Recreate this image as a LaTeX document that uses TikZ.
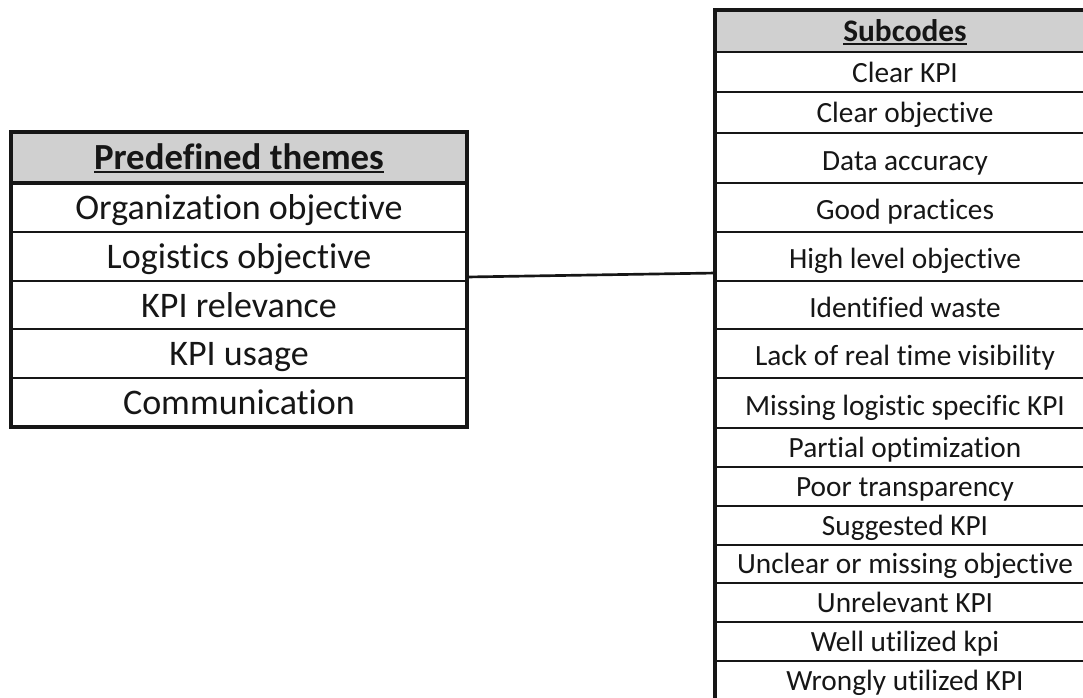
\documentclass[tikz,border=0pt]{standalone}
\usepackage{fontspec}
\setmainfont{Carlito}[Ligatures={NoCommon,NoContextual}]
\usetikzlibrary{positioning, fit}

\definecolor{headgray}{RGB}{208,208,208}
\definecolor{tableink}{RGB}{22,22,22}

% bold heading with a close underline
\newcommand{\ulhead}[2]{\setbox0\hbox{\fontsize{#1}{#1}\selectfont\bfseries #2}\rlap{\rule[-2.2pt]{\wd0}{1.5pt}}\box0}

\begin{document}
\begin{tikzpicture}[x=0.75pt, y=-0.75pt,
    themecell/.style={draw=tableink, line width=1.5pt, minimum width=341pt,
        inner sep=0pt, text depth=0pt, text=tableink,
        font=\fontsize{27}{32}\selectfont},
    subcell/.style={draw=tableink, line width=1.5pt, minimum width=283.5pt,
        inner sep=0pt, text depth=0pt, text=tableink,
        font=\fontsize{22}{26}\selectfont},
    headcell/.style={fill=headgray},
    frame/.style={draw=tableink, line width=2.4pt, inner sep=0pt},
    link/.style={draw=tableink, line width=2pt}]
    \useasboundingbox (0,0) rectangle (1083,697);
    \clip (0,0) rectangle (1083,697);

    % Predefined themes
    \foreach \n/\top/\bot/\txt in {0/133/182/{\ulhead{27.6}{Predefined themes}},
            1/182/232/Organization objective, 2/232/281/Logistics objective,
            3/281/329/KPI relevance, 4/329/378/KPI usage,
            5/378/426/Communication} {
        \pgfmathsetmacro\rowh{(\bot-\top)*0.75}
        \pgfmathsetmacro\txth{(\bot-\top)*0.375}
        \ifnum\n=0 \tikzset{every node/.append style={headcell}}\fi
        \node[themecell, minimum height=\rowh pt, text height=\txth pt]
            (t\n) at (239,{(\top+\bot)/2}) {\txt};
    }
    \node[frame, fit=(t0)(t5)] (themes) {};
    \draw[frame] (t0.south west) -- (t0.south east);

    % Subcodes
    \foreach \n/\top/\bot/\txt in {0/11/52/{\ulhead{23.5}{Subcodes}},
            1/52/92/Clear KPI, 2/92/133/Clear objective,
            3/133/183/Data accuracy, 4/183/232/Good practices,
            5/232/281/High level objective, 6/281/329/Identified waste,
            7/329/378/Lack of real time visibility,
            8/378/428/Missing logistic specific KPI,
            9/428/467/Partial optimization, 10/467/506/Poor transparency,
            11/506/545/Suggested KPI, 12/545/583/Unclear or missing objective,
            13/583/622/Unrelevant KPI, 14/622/661/Well utilized kpi,
            15/661/700/Wrongly utilized KPI} {
        \pgfmathsetmacro\rowh{(\bot-\top)*0.75}
        \pgfmathsetmacro\txth{(\bot-\top)*0.375}
        \ifnum\n=0 \tikzset{every node/.append style={headcell}}\fi
        \node[subcell, minimum height=\rowh pt, text height=\txth pt]
            (s\n) at (905,{(\top+\bot)/2}) {\txt};
    }
    \node[frame, fit=(s0)(s15)] (subcodes) {};

    \coordinate (hook) at (716,273);
    \draw[link] ([yshift=1.9pt]themes.east) -- (hook);
\end{tikzpicture}
\end{document}
